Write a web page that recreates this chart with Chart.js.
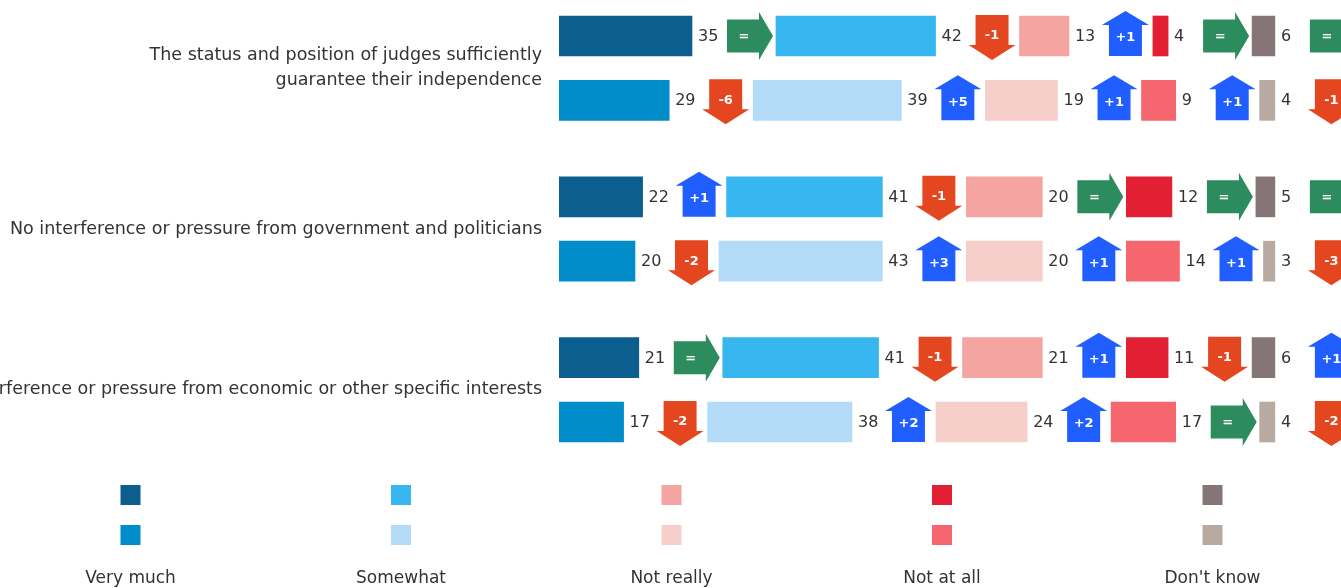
<!DOCTYPE html>
<html>
<head>
<meta charset="utf-8">
<script src="https://cdn.jsdelivr.net/npm/chart.js@4.4.1/dist/chart.umd.min.js"></script>
<style>
html,body{margin:0;padding:0;background:#fff;overflow:hidden}
#wrap{position:relative;width:1341px;height:588px}
</style>
</head>
<body>
<div id="wrap"><canvas id="c" width="1341" height="588"></canvas></div>
<script>
// ---- DATA ----
const categories = [
  ["The status and position of judges sufficiently", "guarantee their independence"],
  "No interference or pressure from government and politicians",
  "No interference or pressure from economic or other specific interests"
];
const answers = ["Very much", "Somewhat", "Not really", "Not at all", "Don't know"];
// rows: [cat1 top, cat1 bottom, cat2 top, cat2 bottom, cat3 top, cat3 bottom]
const veryMuch  = [35, 29, 22, 20, 21, 17];
const somewhat  = [42, 39, 41, 43, 41, 38];
const notReally = [13, 19, 20, 20, 21, 24];
const notAtAll  = [4, 9, 12, 14, 11, 17];
const dontKnow  = [6, 4, 5, 3, 6, 4];
// changes shown in arrows after each segment
const veryMuchChange  = [0, -6, 1, -2, 0, -2];
const somewhatChange  = [-1, 5, -1, 3, -1, 2];
const notReallyChange = [1, 1, 0, 1, 1, 2];
const notAtAllChange  = [0, 1, 0, 1, -1, 0];
const dontKnowChange  = [0, -1, 0, -3, 1, -2];

// ---- STYLE ----
const topColors    = ["#0B5E8E", "#37B6EF", "#F4A5A1", "#E31F33", "#867577"];
const bottomColors = ["#008DCA", "#B3DBF8", "#F6CFCB", "#F5666F", "#B8A9A1"];
const arrowGreen = "#2D8C5D", arrowBlue = "#205EFF", arrowRed = "#E4471F";
const FONT = "'DejaVu Sans', sans-serif";
const GAP = 22.1;          // space (in value units) left for label + arrow
const rowPos = (i) => Math.floor(i / 2) * 5 + (i % 2) * 2;

const series = [veryMuch, somewhat, notReally, notAtAll, dontKnow];
const changes = [veryMuchChange, somewhatChange, notReallyChange, notAtAllChange, dontKnowChange];

const datasets = [];
series.forEach((vals, s) => {
  datasets.push({
    label: answers[s],
    data: vals.map((v, i) => ({ x: v, y: rowPos(i) })),
    backgroundColor: vals.map((v, i) => (i % 2 === 0 ? topColors[s] : bottomColors[s])),
    borderWidth: 0,
    stack: 's',
    barThickness: 40,
    isValue: true,
    changeIdx: s
  });
  datasets.push({
    label: '',
    data: vals.map((v, i) => ({ x: GAP, y: rowPos(i) })),
    backgroundColor: 'rgba(0,0,0,0)',
    borderWidth: 0,
    stack: 's',
    barThickness: 40,
    isValue: false
  });
});

function drawArrow(ctx, d, x, cy) {
  ctx.save();
  ctx.beginPath();
  let tx, ty = cy + 1;
  if (d === 0) {
    const x0 = x + 35;
    ctx.fillStyle = arrowGreen;
    ctx.moveTo(x0, cy - 16.5); ctx.lineTo(x0 + 32, cy - 16.5); ctx.lineTo(x0 + 32, cy - 24);
    ctx.lineTo(x0 + 46, cy); ctx.lineTo(x0 + 32, cy + 24); ctx.lineTo(x0 + 32, cy + 16.5);
    ctx.lineTo(x0, cy + 16.5); ctx.closePath();
    tx = x0 + 17;
  } else if (d > 0) {
    const x0 = x + 33;
    ctx.fillStyle = arrowBlue;
    ctx.moveTo(x0 + 7, cy + 20); ctx.lineTo(x0 + 7, cy - 11); ctx.lineTo(x0, cy - 11);
    ctx.lineTo(x0 + 23.5, cy - 25); ctx.lineTo(x0 + 47, cy - 11); ctx.lineTo(x0 + 40, cy - 11);
    ctx.lineTo(x0 + 40, cy + 20); ctx.closePath();
    tx = x0 + 23.5; ty = cy + 2;
  } else {
    const x0 = x + 33;
    ctx.fillStyle = arrowRed;
    ctx.moveTo(x0 + 7, cy - 21); ctx.lineTo(x0 + 40, cy - 21); ctx.lineTo(x0 + 40, cy + 9);
    ctx.lineTo(x0 + 47, cy + 9); ctx.lineTo(x0 + 23.5, cy + 24); ctx.lineTo(x0, cy + 9);
    ctx.lineTo(x0 + 7, cy + 9); ctx.closePath();
    tx = x0 + 23.5; ty = cy;
  }
  ctx.fill();
  ctx.fillStyle = '#fff';
  ctx.font = "bold 13px " + FONT;
  ctx.textAlign = 'center';
  ctx.textBaseline = 'middle';
  const txt = d === 0 ? '=' : (d > 0 ? '+' + d : '-' + Math.abs(d));
  ctx.fillText(txt, tx, ty);
  ctx.restore();
}

const labelsPlugin = {
  id: 'labelsArrows',
  afterDatasetsDraw(chart) {
    const ctx = chart.ctx;
    chart.data.datasets.forEach((ds, di) => {
      if (!ds.isValue) return;
      const meta = chart.getDatasetMeta(di);
      meta.data.forEach((el, i) => {
        const v = ds.data[i].x;
        ctx.save();
        ctx.fillStyle = '#333';
        ctx.font = "16px " + FONT;
        ctx.textAlign = 'left';
        ctx.textBaseline = 'middle';
        ctx.fillText(String(v), el.x + 6, el.y + 1);
        ctx.restore();
        drawArrow(ctx, changes[ds.changeIdx][i], el.x, el.y);
      });
    });
  }
};

const legendPlugin = {
  id: 'customLegend',
  afterDraw(chart) {
    const ctx = chart.ctx;
    ctx.save();
    answers.forEach((name, k) => {
      const cx = 130.5 + 270.5 * k;
      ctx.fillStyle = topColors[k];
      ctx.fillRect(cx - 10, 485, 20, 20);
      ctx.fillStyle = bottomColors[k];
      ctx.fillRect(cx - 10, 525, 20, 20);
      ctx.fillStyle = '#333';
      ctx.font = "17px " + FONT;
      ctx.textAlign = 'center';
      ctx.textBaseline = 'middle';
      ctx.fillText(name, cx, 579);
    });
    ctx.restore();
  }
};

new Chart(document.getElementById('c'), {
  type: 'bar',
  data: { datasets },
  options: {
    indexAxis: 'y',
    responsive: false,
    devicePixelRatio: 1,
    animation: false,
    layout: { padding: { top: 0, bottom: 128, left: 0, right: 0 } },
    plugins: { legend: { display: false }, tooltip: { enabled: false } },
    scales: {
      x: { type: 'linear', stacked: true, min: 0, max: 205.8, display: false },
      y: {
        type: 'linear', stacked: true, reverse: true, bounds: 'data', offset: false,
        min: -1.119, max: 13.18,
        grid: { display: false, drawTicks: false, offset: false },
        border: { display: false },
        afterBuildTicks: (scale) => { scale.ticks = categories.map((c, i) => ({ value: i * 5 + 1 })); },
        afterFit: (scale) => { scale.width = 559; scale.paddingTop = 0; scale.paddingBottom = 0; },
        ticks: {
          padding: 17,
          color: '#333',
          font: { family: FONT, size: 17.5, lineHeight: 1.43 },
          callback: (value) => categories[Math.round((value - 1) / 5)]
        }
      }
    }
  },
  plugins: [labelsPlugin, legendPlugin]
});
</script>
</body>
</html>
